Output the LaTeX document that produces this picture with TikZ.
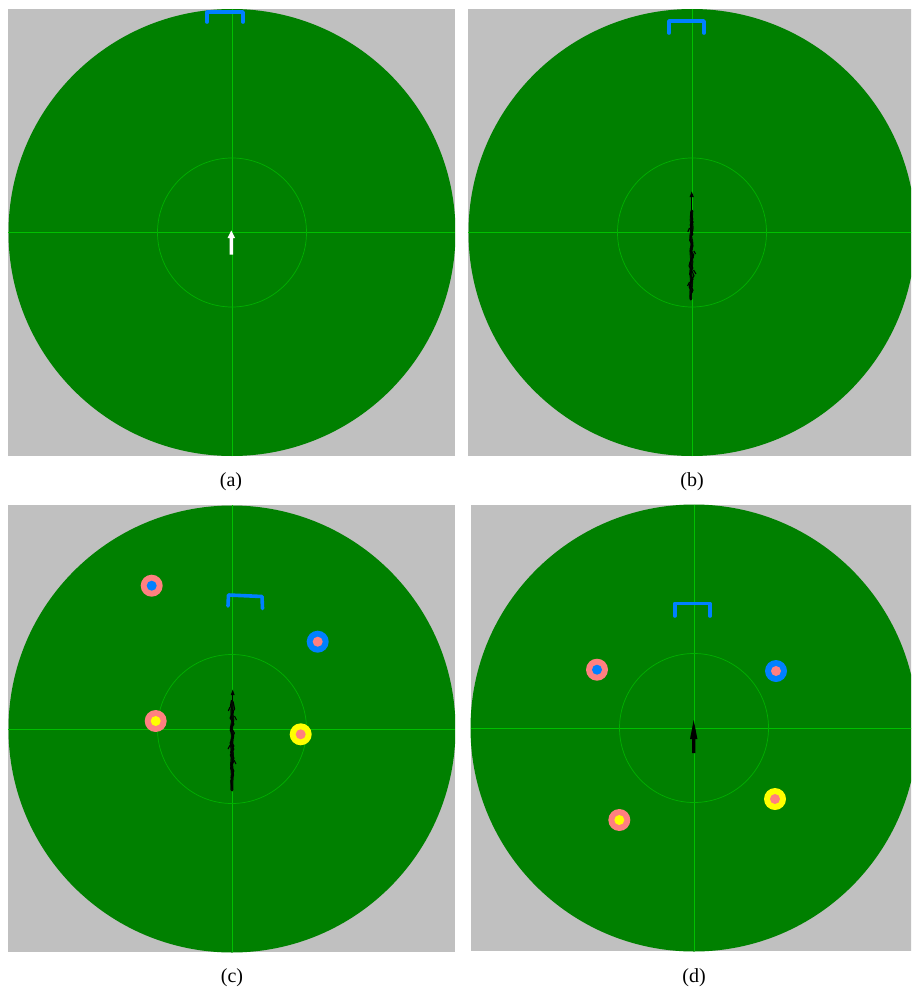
\documentclass[tikz,border=0pt]{standalone}
\usepackage{fontspec}
\setmainfont{Liberation Serif}
\definecolor{bgray}{HTML}{C0C0C0}
\definecolor{fgreen}{HTML}{008000}
\definecolor{lgreen}{HTML}{00C000}
\definecolor{cgreen}{HTML}{00B000}
\definecolor{goalblue}{HTML}{0080FF}
\definecolor{robpink}{HTML}{FF8080}
\definecolor{robyellow}{HTML}{FFFF00}
\newcommand{\soccerfield}[6]{%
  \fill[bgray] (#3,#4) rectangle (#5,#6);
  \begin{scope}
    \clip (#3,#4) rectangle (#5,#6);
    \fill[fgreen] (#1,#2) circle[radius=223.5pt];
    \draw[lgreen, line width=0.9pt] (#1,#4) -- (#1,#6);
    \draw[lgreen, line width=0.9pt] (#3,#2) -- (#5,#2);
    \draw[cgreen, line width=0.7pt] (#1,#2) circle[radius=74.5pt];
  \end{scope}}
\newcommand{\robotmark}[4]{%
  \fill[#3] (#1,#2) circle[radius=11pt];
  \fill[#4] (#1,#2) circle[radius=5pt];}
\tikzset{
  goalline/.style={goalblue, line width=3.6pt, line cap=round, line join=round},
  caption/.style={font=\fontsize{20}{22}\selectfont, inner sep=0pt},
  scribble/.style={black, line width=1.1pt, line join=round},
  scribblecore/.style={black!90!fgreen, line width=3pt, line join=round, line cap=round}
}
\begin{document}
\begin{tikzpicture}[x=1pt,y=-1pt]
\useasboundingbox (0,0) rectangle (911,987);
\fill[white] (0,0) rectangle (911,987);
\begin{scope}
\clip (0,0) rectangle (911,987);
% panels
\soccerfield{232}{232.5}{8}{9}{455}{456}
\soccerfield{692}{232.5}{468}{9}{916}{456}
\soccerfield{232}{729}{8}{505}{455}{952}
\soccerfield{694}{728}{470.5}{504.5}{917.5}{951}

% (a) goal and white arrow
\draw[goalline] (207,22) -- (207,12) -- (243,12) -- (243,22);
\fill[white] (229.6,254.5) -- (229.6,238) -- (227.6,238) -- (231.3,230.5) -- (235,238) -- (233,238) -- (233,254.5) -- cycle;

% (b) goal and scribble
\draw[goalline] (669,33) -- (669,21) -- (704,21) -- (704,33);
\draw[black, line width=0.8pt] (691.7,214) -- (691.7,196);
\fill[black] (691.7,191.5) -- (689.6,197) -- (693.8,197) -- cycle;
\draw[scribblecore] (691.8,211) -- (691.2,220) -- (692.2,228) -- (690.8,236) -- (692,244) -- (691,252) -- (691.8,262) -- (690.8,272) -- (691.6,282) -- (690.9,292) -- (690.8,299);
\draw[scribble] (692,210) -- (690.5,216) -- (693,222) -- (690,229) -- (692.8,234) -- (689.5,240) -- (693,246) -- (690,251) -- (693.5,257) -- (689.8,263) -- (692.8,268) -- (689.5,274) -- (693,279) -- (690,285) -- (693,290) -- (690.2,296) -- (691,300);
\draw[scribble] (690.8,212) -- (692.8,219) -- (690.2,225) -- (692.6,231) -- (690,238) -- (692.4,243) -- (690.2,249) -- (693.8,255) -- (691,259) -- (689,266) -- (692,271) -- (694,276) -- (690.6,281) -- (689.2,287) -- (692,293);
\draw[scribble] (693.5,270) -- (696,274);
\draw[scribble] (689.5,282) -- (687.5,286);
\draw[scribble] (689.5,228) -- (687.8,232);
\draw[scribble] (693.8,251) -- (695.6,254);

% (c) goal, robots, scribble
\draw[goalline] (228,606) -- (228.5,595) -- (262,596.5) -- (262.5,608.5);
\robotmark{151.7}{585.7}{robpink}{goalblue}
\robotmark{317.7}{641.7}{goalblue}{robpink}
\robotmark{155.7}{721}{robpink}{robyellow}
\robotmark{300.7}{734.3}{robyellow}{robpink}
\draw[black, line width=0.8pt] (232.7,706) -- (232.7,694);
\fill[black] (232.7,689.5) -- (230.8,695) -- (234.6,695) -- cycle;
\draw[scribblecore] (232.5,702) -- (231.8,712) -- (232.8,720) -- (231.4,728) -- (232.6,736) -- (231.5,745) -- (232.4,754) -- (231.6,764) -- (232.3,774) -- (231.8,784) -- (232,790);
\draw[scribble] (231.5,700) -- (230.5,706) -- (233.5,712) -- (230,718) -- (234,724) -- (230.2,730) -- (233.6,737) -- (230,743) -- (233.8,749) -- (230.3,755) -- (233.4,762) -- (230.6,768) -- (233.6,775) -- (230.8,781) -- (232.4,789);
\draw[scribble] (233.2,702) -- (234.6,709) -- (231,715) -- (233.4,722) -- (230.6,727) -- (234.4,733) -- (231,740) -- (233.8,746) -- (230.6,752) -- (234,758) -- (231,765) -- (233.8,771) -- (231,778);
\draw[scribble] (230,707) -- (228.3,711);
\draw[scribble] (234.5,716) -- (236.5,720);
\draw[scribble] (230.2,745) -- (228,749);
\draw[scribble] (234,760) -- (236,764);

% (d) goal, robots, black arrow
\draw[goalline] (674.7,616) -- (674.7,603.5) -- (710,603.5) -- (710,616);
\robotmark{597}{669.7}{robpink}{goalblue}
\robotmark{776}{671}{goalblue}{robpink}
\robotmark{775}{799}{robyellow}{robpink}
\robotmark{619.3}{820}{robpink}{robyellow}
\fill[black] (692.1,753) -- (692.1,739) -- (690,739) -- (693.7,720) -- (697.4,739) -- (695.3,739) -- (695.3,753) -- cycle;
\end{scope}

% captions
\node[caption] (capa) at (231,482) {(a)};
\node[caption] (capb) at (692,482) {(b)};
\node[caption] (capc) at (232,978) {(c)};
\node[caption] (capd) at (694,978) {(d)};
\end{tikzpicture}
\end{document}
